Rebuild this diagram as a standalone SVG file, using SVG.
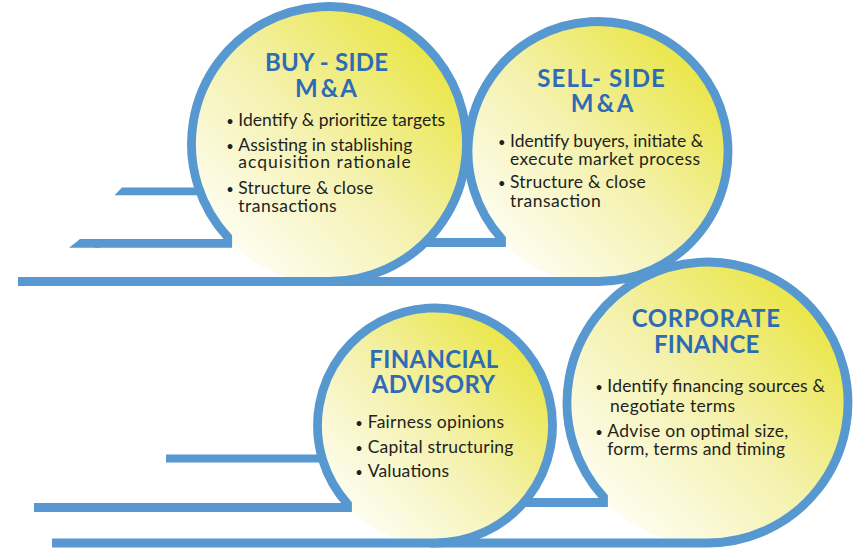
<svg xmlns="http://www.w3.org/2000/svg" width="856" height="549" viewBox="0 0 856 549">
<defs>
<linearGradient id="yel" x1="0" y1="1" x2="1" y2="0">
<stop offset="0.12" stop-color="#fefef5"/>
<stop offset="0.5" stop-color="#f4f1ac"/>
<stop offset="0.88" stop-color="#e9e53f"/>
</linearGradient>
<style>
.ring{fill:none;stroke:#5698cf;stroke-width:8.8;stroke-linejoin:miter;stroke-linecap:butt}
.bar{fill:#5698cf}
.disc{fill:url(#yel)}
.t{font-family:Lato,"Open Sans","Liberation Sans",sans-serif;font-weight:700;font-size:24px;fill:#2e6bb5;text-anchor:middle}
.b{font-family:Lato,"Open Sans","Liberation Sans",sans-serif;font-size:17.5px;fill:#231f20}
.d{font-family:Lato,"Open Sans","Liberation Sans",sans-serif;font-size:13px;fill:#231f20;text-anchor:middle}
</style>
</defs>
<rect width="856" height="549" fill="#ffffff"/>
<g id="lines">
<polygon class="bar" points="122,187.5 260,187.5 260,195.3 114.5,195.3"/>
<polygon class="bar" points="80,238.9 100,238.9 100,247.7 69,247.7"/>
<rect class="bar" x="166" y="454.5" width="174" height="8"/>
</g>
<g id="sell-side">
<circle class="disc" cx="598" cy="151.5" r="132"/>
<path class="ring" d="M425 242.5 H501.5 V238.6 A130 130 0 1 1 598 281.5 H329"/>
<text class="t" x="601" y="86.7" textLength="127.7" lengthAdjust="spacing">SELL- SIDE</text>
<text class="t" x="602" y="111.7" textLength="62.7" lengthAdjust="spacing">M &amp; A</text>
<text class="d" x="501.7" y="146.7">•</text>
<text class="b" x="510" y="146.7" textLength="193.3" lengthAdjust="spacing">Identify buyers, initiate &amp;</text>
<text class="b" x="510" y="165" textLength="190" lengthAdjust="spacing">execute market process</text>
<text class="d" x="501.7" y="188.3">•</text>
<text class="b" x="510" y="188.3" textLength="135.7" lengthAdjust="spacing">Structure &amp; close</text>
<text class="b" x="510" y="207.3" textLength="90.7" lengthAdjust="spacing">transaction</text>
</g>
<g id="buy-side">
<circle class="disc" cx="329" cy="144" r="139.5"/>
<path class="ring" d="M95 243.3 H227.7 V237 A137.5 137.5 0 1 1 329 281.5 H18"/>
<text class="t" x="326.5" y="70.7" textLength="123" lengthAdjust="spacing">BUY - SIDE</text>
<text class="t" x="326" y="96.7" textLength="62" lengthAdjust="spacing">M &amp; A</text>
<text class="d" x="230" y="126">•</text>
<text class="b" x="238.3" y="126" textLength="206.7" lengthAdjust="spacing">Identify &amp; prioritize targets</text>
<text class="d" x="230" y="151">•</text>
<text class="b" x="238.3" y="151" textLength="174" lengthAdjust="spacing">Assisting in stablishing</text>
<text class="b" x="238.3" y="168" textLength="172.4" lengthAdjust="spacing">acquisition rationale</text>
<text class="d" x="230" y="194.3">•</text>
<text class="b" x="238.3" y="194.3" textLength="135" lengthAdjust="spacing">Structure &amp; close</text>
<text class="b" x="238.3" y="212.3" textLength="98.4" lengthAdjust="spacing">transactions</text>
</g>
<g id="corporate-finance">
<circle class="disc" cx="707.5" cy="402.5" r="142.5"/>
<path class="ring" d="M515 502.5 H603.5 V497 A140.5 140.5 0 1 1 707.5 543 H430"/>
<text class="t" x="705.8" y="327.3" textLength="148.3" lengthAdjust="spacing">CORPORATE</text>
<text class="t" x="706.7" y="352.7" textLength="105.3" lengthAdjust="spacing">FINANCE</text>
<text class="d" x="599" y="391.7">•</text>
<text class="b" x="607.3" y="391.7" textLength="217.7" lengthAdjust="spacing">Identify financing sources &amp;</text>
<text class="b" x="610" y="411.7" textLength="125" lengthAdjust="spacing">negotiate terms</text>
<text class="d" x="599" y="436.7">•</text>
<text class="b" x="607.3" y="436.7" textLength="181" lengthAdjust="spacing">Advise on optimal size,</text>
<text class="b" x="607.3" y="455" textLength="177.7" lengthAdjust="spacing">form, terms and timing</text>
</g>
<g id="financial-advisory">
<circle class="disc" cx="435" cy="425.5" r="119.5"/>
<path class="ring" d="M34 507.5 H347.5 V503.9 A117.5 117.5 0 1 1 435 543 H52"/>
<text class="t" x="433.8" y="367.7" textLength="129" lengthAdjust="spacing">FINANCIAL</text>
<text class="t" x="433.3" y="393.3" textLength="123.3" lengthAdjust="spacing">ADVISORY</text>
<text class="d" x="359" y="428.3">•</text>
<text class="b" x="367.7" y="428.3" textLength="136.3" lengthAdjust="spacing">Fairness opinions</text>
<text class="d" x="359" y="453.3">•</text>
<text class="b" x="367.7" y="453.3" textLength="145.7" lengthAdjust="spacing">Capital structuring</text>
<text class="d" x="359" y="476.7">•</text>
<text class="b" x="367.7" y="476.7" textLength="81.3" lengthAdjust="spacing">Valuations</text>
</g>
</svg>
